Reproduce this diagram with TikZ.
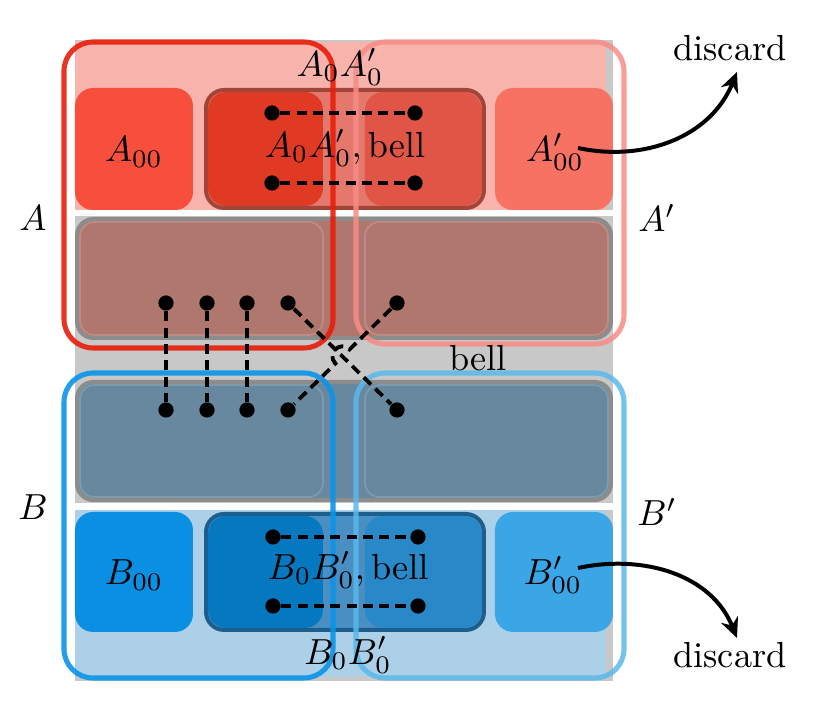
\documentclass[tikz,border=0pt]{standalone}
\usetikzlibrary{arrows.meta}
\definecolor{lgray}{HTML}{C8C8C8}
\definecolor{pinkreg}{HTML}{F8B4AC}
\definecolor{bluereg}{HTML}{ACD0E8}
\definecolor{abell}{HTML}{B0776F}
\definecolor{bbell}{HTML}{67889E}
\definecolor{rowborder}{HTML}{8C8C8C}
\definecolor{aoo}{HTML}{F74F3B}
\definecolor{aoop}{HTML}{F87264}
\definecolor{azero}{HTML}{E03A25}
\definecolor{azerop}{HTML}{E05545}
\definecolor{amid}{HTML}{E4786C}
\definecolor{aborder}{HTML}{A04538}
\definecolor{boo}{HTML}{0B8FE3}
\definecolor{boop}{HTML}{3AA6E6}
\definecolor{bzero}{HTML}{0578C0}
\definecolor{bzerop}{HTML}{2888C8}
\definecolor{bmid}{HTML}{4A8FC4}
\definecolor{bborder}{HTML}{1D5E8E}
\definecolor{Aout}{HTML}{E81E0A}
\definecolor{Apout}{HTML}{F88C86}
\definecolor{Bout}{HTML}{0A94E8}
\definecolor{Bpout}{HTML}{5AB8EC}
\begin{document}
\begin{tikzpicture}[x=0.276pt,y=-0.276pt,
  cellbox/.style={rounded corners=5pt},
  rowbox/.style={rounded corners=4.5pt, draw=rowborder, line width=1.1pt},
  groupbox/.style={rounded corners=8pt, line width=1.4pt},
  dotnode/.style={circle, fill=black, inner sep=0pt, minimum size=4.2pt},
  link/.style={line width=1.05pt, dash pattern=on 2.8pt off 1.7pt},
  lbl/.style={inner sep=1pt},
  arr/.style={line width=1.1pt, -{Stealth[length=5.5pt,width=5pt]}}]
\useasboundingbox (0,0) rectangle (820,717);
% gray bases
\fill[lgray] (75,40) rectangle (613,210);
\fill[lgray] (75,216) rectangle (613,503);
\fill[lgray] (75,510) rectangle (613,681);
% coloured regions
\fill[pinkreg] (75,42) rectangle (606,210);
\fill[bluereg] (75,510) rectangle (606,677);
% middle row boxes
\draw[rowbox, fill=abell] (77,219) rectangle (611,338);
\draw[rowbox, fill=bbell] (77,382) rectangle (611,500);
\draw[rounded corners=4pt, draw=abell!85!white, line width=0.5pt] (80,222) rectangle (323,335);
\draw[rounded corners=4pt, draw=abell!85!white, line width=0.5pt] (365,222) rectangle (608,335);
\draw[rounded corners=4pt, draw=bbell!85!white, line width=0.5pt] (80,385) rectangle (323,497);
\draw[rounded corners=4pt, draw=bbell!85!white, line width=0.5pt] (365,385) rectangle (608,497);
% top row
\fill[cellbox, aoo] (75,88) rectangle (193,210);
\fill[cellbox, aoop] (495,88) rectangle (613,210);
\draw[cellbox, fill=amid, draw=aborder, line width=1.1pt] (206,90) rectangle (484,208);
\fill[cellbox, azero] (208,92) rectangle (323,206);
\fill[cellbox, azerop] (365,92) rectangle (482,206);
% bottom row
\fill[cellbox, boo] (75,512) rectangle (193,632);
\fill[cellbox, boop] (495,512) rectangle (613,632);
\draw[cellbox, fill=bmid, draw=bborder, line width=1.1pt] (206,514) rectangle (484,630);
\fill[cellbox, bzero] (208,516) rectangle (323,628);
\fill[cellbox, bzerop] (365,516) rectangle (482,628);
% group outlines
\draw[groupbox, draw=Aout, opacity=0.9] (64,42) rectangle (333,348);
\draw[groupbox, draw=Apout, opacity=0.85] (356,42) rectangle (624,344);
\draw[groupbox, draw=Bout, opacity=0.9] (64,373) rectangle (333,678);
\draw[groupbox, draw=Bpout, opacity=0.85] (356,373) rectangle (624,678);
% labels
\node[lbl] (lA0A0) at (340,67) {$A_0A_0'$};
\node[lbl] (lA00) at (134,152) {$A_{00}$};
\node[lbl] (lAbell) at (345,148) {$A_0A_0', \mathrm{bell}$};
\node[lbl] (lA00p) at (555,152) {$A_{00}'$};
\node[lbl] (lA) at (33,218) {$A$};
\node[lbl] (lAp) at (657,218) {$A'$};
\node[lbl] (lbell) at (478,358) {bell};
\node[lbl] (lB) at (33,507) {$B$};
\node[lbl] (lBp) at (657,512) {$B'$};
\node[lbl] (lB00) at (134,575) {$B_{00}$};
\node[lbl] (lBbell) at (348,570) {$B_0B_0', \mathrm{bell}$};
\node[lbl] (lB00p) at (553,575) {$B_{00}'$};
\node[lbl] (lB0B0) at (348,655) {$B_0B_0'$};
\node[lbl] (dtop) at (730,48) {discard};
\node[lbl] (dbot) at (730,655) {discard};
% dots
\node[dotnode] (ta1) at (272,113) {};
\node[dotnode] (ta2) at (415,113) {};
\node[dotnode] (ta3) at (272,183) {};
\node[dotnode] (ta4) at (415,183) {};
\node[dotnode] (tb1) at (273,537) {};
\node[dotnode] (tb2) at (418,537) {};
\node[dotnode] (tb3) at (273,606) {};
\node[dotnode] (tb4) at (418,606) {};
\node[dotnode] (u1) at (166,303) {};
\node[dotnode] (u2) at (207,303) {};
\node[dotnode] (u3) at (247,303) {};
\node[dotnode] (u4) at (288,303) {};
\node[dotnode] (u5) at (397,303) {};
\node[dotnode] (v1) at (166,410) {};
\node[dotnode] (v2) at (207,410) {};
\node[dotnode] (v3) at (247,410) {};
\node[dotnode] (v4) at (288,410) {};
\node[dotnode] (v5) at (397,410) {};
\coordinate (h1) at (349.5,349.5);
\coordinate (h2) at (335.5,363.5);
% links
\draw[link] (ta1) -- (ta2);
\draw[link] (ta3) -- (ta4);
\draw[link] (tb1) -- (tb2);
\draw[link] (tb3) -- (tb4);
\draw[link] (u1) -- (v1);
\draw[link] (u2) -- (v2);
\draw[link] (u3) -- (v3);
\draw[link] (u4) -- (v5);
\draw[link] (u5) -- (h1) .. controls (340,340) and (326,354) .. (h2) -- (v4);
% arrows
\coordinate (s1) at (578,148);
\coordinate (s2) at (578,568);
\coordinate (t1) at (737,72);
\coordinate (t2) at (737,638);
\draw[arr] (s1) to[out=-12,in=-112] (t1);
\draw[arr] (s2) to[out=12,in=112] (t2);
\end{tikzpicture}
\end{document}
